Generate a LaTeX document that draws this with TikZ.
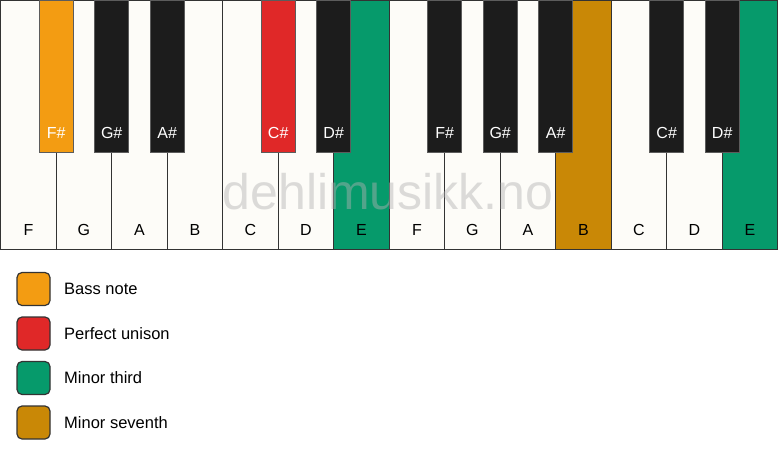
\documentclass[tikz,border=0pt]{standalone}
\usepackage{fontspec}
\setmainfont{Liberation Sans}
\definecolor{keywhite}{HTML}{FDFCF8}
\definecolor{keyblack}{HTML}{1C1C1C}
\definecolor{bassorange}{HTML}{F39C12}
\definecolor{unisonred}{HTML}{E02828}
\definecolor{thirdgreen}{HTML}{069A6B}
\definecolor{seventhgold}{HTML}{C98806}
\definecolor{outline}{HTML}{333333}
\begin{document}
\begin{tikzpicture}[x=1pt,y=-1pt,
  whitekey/.style={draw=outline, line width=1.4pt, fill=keywhite, minimum width=55.5pt, minimum height=249pt, inner sep=0pt, outer sep=0pt, anchor=north west},
  blackkey/.style={draw=outline!80, line width=1pt, fill=keyblack, minimum width=34pt, minimum height=152pt, inner sep=0pt, outer sep=0pt, anchor=north},
  whitelabel/.style={font=\fontsize{16}{19}\selectfont, text=black, inner sep=0pt},
  blacklabel/.style={font=\fontsize{16}{19}\selectfont, text=white, inner sep=0pt},
  legbox/.style={draw=outline, line width=1.2pt, rounded corners=5pt, minimum width=33pt, minimum height=33pt, inner sep=0pt},
  legtext/.style={font=\fontsize{16.5}{19}\selectfont, anchor=west, inner sep=0pt},
  watermark/.style={font=\fontsize{50}{58}\selectfont, text=gray!60, opacity=0.45, inner sep=0pt}
]
\useasboundingbox (0,0) rectangle (778,461);
\fill[white] (0,0) rectangle (778,461);
% white keys
\foreach \i/\c in {0/keywhite,1/keywhite,2/keywhite,3/keywhite,4/keywhite,5/keywhite,6/thirdgreen,7/keywhite,8/keywhite,9/keywhite,10/seventhgold,11/keywhite,12/keywhite,13/thirdgreen}{
  \node[whitekey, fill=\c] (w\i) at ({0.7+\i*55.5},0.7) {};
}
% black keys
\foreach \b/\c in {1/bassorange,2/keyblack,3/keyblack,5/unisonred,6/keyblack,8/keyblack,9/keyblack,10/keyblack,12/keyblack,13/keyblack}{
  \node[blackkey, fill=\c] (b\b) at ({0.7+\b*55.5},0) {};
}
% labels
\foreach \i/\n in {0/F,1/G,2/A,3/B,4/C,5/D,6/E,7/F,8/G,9/A,10/B,11/C,12/D,13/E}{
  \node[whitelabel] (wl\i) at ([yshift=19.5pt]w\i.south) {\n};
}
\foreach \b/\n in {1/F\#,2/G\#,3/A\#,5/C\#,6/D\#,8/F\#,9/G\#,10/A\#,12/C\#,13/D\#}{
  \node[blacklabel] (bl\b) at ([yshift=19pt]b\b.south) {\n};
}
\node[watermark] (wm) at (388,192) {dehlimusikk.no};
% legend
\node[legbox, fill=bassorange] (l1) at (33.5,289) {};
\node[legtext] (t1) at (64,289) {Bass note};
\node[legbox, fill=unisonred] (l2) at (33.5,333.5) {};
\node[legtext] (t2) at (64,333.5) {Perfect unison};
\node[legbox, fill=thirdgreen] (l3) at (33.5,378) {};
\node[legtext] (t3) at (64,378) {Minor third};
\node[legbox, fill=seventhgold] (l4) at (33.5,422.5) {};
\node[legtext] (t4) at (64,422.5) {Minor seventh};
\end{tikzpicture}
\end{document}
